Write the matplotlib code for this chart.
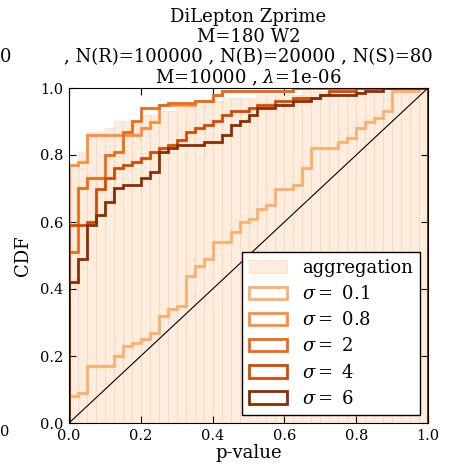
import matplotlib
matplotlib.use("Agg")
import matplotlib.pyplot as plt
import numpy as np

plt.rcParams["font.family"] = ["DejaVu Serif"]
plt.rcParams["mathtext.fontset"] = "dejavuserif"

# cumulative fraction per p-value bin (40 bins of width 0.025)
agg = [0.77, 0.81, 0.87, 0.87, 0.88, 0.90, 0.90, 0.90, 0.92, 0.92,
       0.93, 0.93, 0.94, 0.95, 0.95, 0.96, 0.96, 0.97, 0.97, 0.97,
       0.97, 0.98, 0.98, 0.98, 0.98, 0.98, 0.99, 0.99, 0.99, 0.99,
       0.99, 0.99, 0.99, 0.99, 0.99, 0.99, 1.00, 1.00, 1.00, 1.00]
cdf_01 = [0.08, 0.09, 0.17, 0.17, 0.17, 0.20, 0.23, 0.24, 0.25, 0.27,
          0.32, 0.34, 0.35, 0.44, 0.47, 0.49, 0.54, 0.54, 0.57, 0.60,
          0.61, 0.64, 0.65, 0.70, 0.70, 0.71, 0.76, 0.82, 0.82, 0.82,
          0.84, 0.85, 0.88, 0.90, 0.91, 0.93, 0.99, 0.99, 0.99, 1.00]
cdf_08 = [0.77, 0.78, 0.86, 0.86, 0.86, 0.86, 0.86, 0.86, 0.88, 0.90,
          0.95, 0.95, 0.95, 0.95, 0.96, 0.96, 0.98, 0.99, 0.99, 0.99,
          0.99, 0.99, 0.99, 0.99, 0.99, 1.00, 1.00, 1.00, 1.00, 1.00,
          1.00, 1.00, 1.00, 1.00, 1.00, 1.00, 1.00, 1.00, 1.00, 1.00]
cdf_2 = [0.51, 0.70, 0.73, 0.73, 0.80, 0.81, 0.87, 0.90, 0.94, 0.94,
         0.95, 0.955, 0.955, 0.955, 0.96, 0.96, 0.98, 0.99, 0.99, 0.99,
         0.99, 0.99, 0.99, 0.99, 0.99, 1.00, 1.00, 1.00, 1.00, 1.00,
         1.00, 1.00, 1.00, 1.00, 1.00, 1.00, 1.00, 1.00, 1.00, 1.00]
cdf_4 = [0.59, 0.59, 0.60, 0.70, 0.73, 0.76, 0.77, 0.78, 0.79, 0.81,
         0.82, 0.83, 0.845, 0.87, 0.88, 0.89, 0.90, 0.92, 0.93, 0.93,
         0.94, 0.95, 0.95, 0.96, 0.96, 0.97, 0.97, 0.97, 0.98, 0.99,
         0.99, 0.99, 1.00, 1.00, 1.00, 1.00, 1.00, 1.00, 1.00, 1.00]
cdf_6 = [0.42, 0.49, 0.59, 0.62, 0.66, 0.70, 0.71, 0.71, 0.73, 0.75,
         0.81, 0.82, 0.83, 0.83, 0.83, 0.84, 0.84, 0.86, 0.89, 0.90,
         0.92, 0.94, 0.94, 0.95, 0.95, 0.96, 0.96, 0.97, 0.98, 0.98,
         0.98, 0.98, 0.985, 0.99, 0.99, 1.00, 1.00, 1.00, 1.00, 1.00]

sigmas = ["0.1", "0.8", "2", "4", "6"]
curves = [cdf_01, cdf_08, cdf_2, cdf_4, cdf_6]
colors = ["#fdae6b", "#fd8d3c", "#f16913", "#d94801", "#8c2d04"]

edges = np.linspace(0, 1, len(agg) + 1)

fig = plt.figure(figsize=(4.57, 4.65), dpi=100)
ax = fig.add_axes([69 / 457, 42 / 465, 359 / 457, 335 / 465])

ax.hist(edges[:-1], bins=edges, weights=agg, color="#fdd9b8", alpha=0.45,
        ec="#f9c69a", lw=0.5, label="aggregation")
for s, c, col in zip(sigmas, curves, colors):
    ax.hist(edges[:-1], bins=edges, weights=c, histtype="step", color=col,
            lw=2, label=r"$\sigma=$ " + s)
ax.plot([0, 1], [0, 1], color="black", lw=0.8)

ax.set_xlim(0, 1)
ax.set_ylim(0, 1)
ax.set_xticks(np.arange(0, 1.01, 0.2))
ax.set_yticks(np.arange(0, 1.01, 0.2))
ax.tick_params(direction="in", top=True, right=True, length=5, labelsize=10.5, pad=4)
ax.set_xlabel("p-value", fontsize=13, labelpad=1)
ax.set_ylabel("CDF", fontsize=13, labelpad=6)
ax.set_title("DiLepton Zprime\nM=180 W2\n, N(R)=100000 , N(B)=20000 , N(S)=80\n"
             r"M=10000 , $\lambda$=1e-06", fontsize=13, pad=3, linespacing=1.15)

leg = ax.legend(loc="lower right", fontsize=13, fancybox=False, framealpha=1,
                edgecolor="black", borderaxespad=0.45, handlelength=2.1,
                handleheight=0.7, handletextpad=0.8, labelspacing=0.45)
leg.get_frame().set_linewidth(1.0)

# cut-off texts from the neighbouring panel
fig.text(0, 1 - 57 / 465, "0", ha="left", va="center", fontsize=13)
fig.text(0, 1 - 432 / 465, "0", ha="left", va="center", fontsize=10.5)

fig.savefig("out.png", dpi=100)
